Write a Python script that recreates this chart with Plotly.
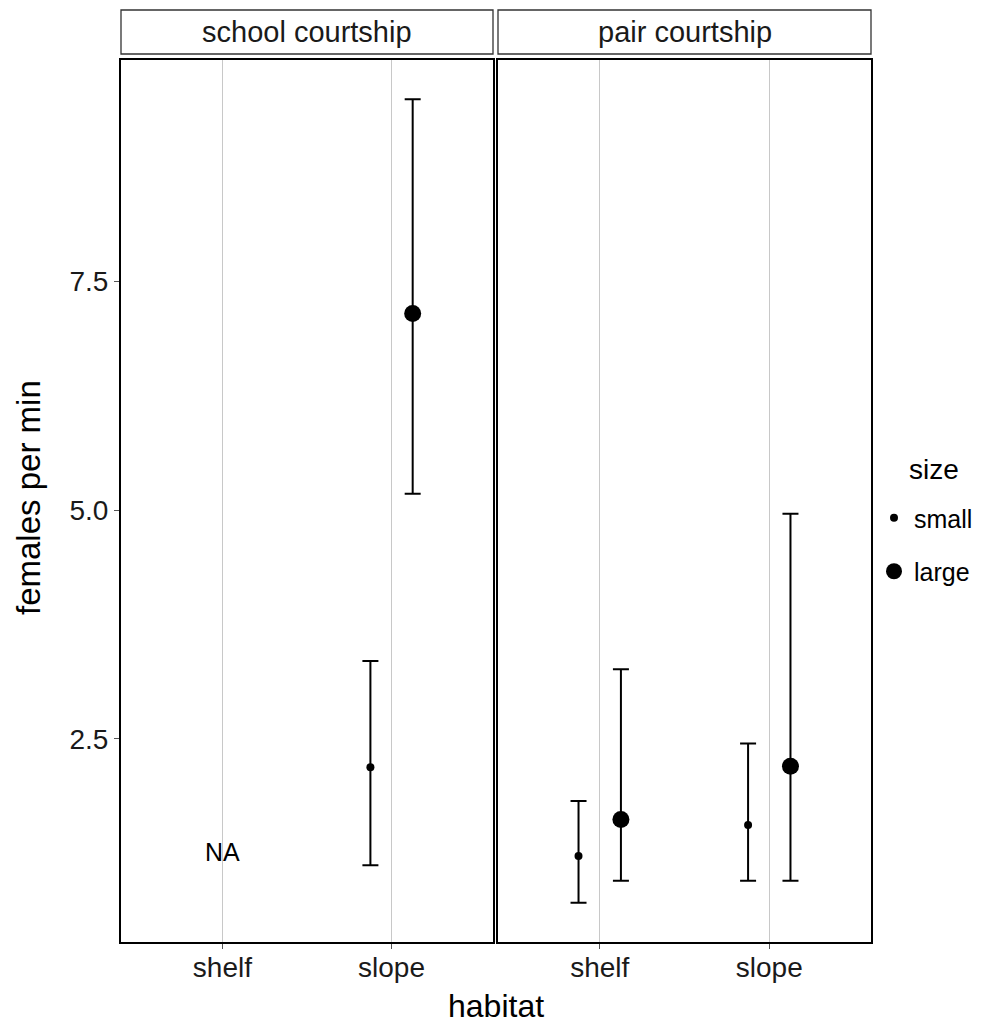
import plotly.graph_objects as go

# ---- data ----
habitats = ["shelf", "slope"]
panels = ["school courtship", "pair courtship"]
sizes = ["small", "large"]

# values per panel -> size -> [shelf, slope]
school_small_mean = [None, 2.19]
school_small_lo = [None, 1.12]
school_small_hi = [None, 3.35]
school_large_mean = [None, 7.15]
school_large_lo = [None, 5.18]
school_large_hi = [None, 9.49]

pair_small_mean = [1.22, 1.56]
pair_small_lo = [0.71, 0.95]
pair_small_hi = [1.82, 2.45]
pair_large_mean = [1.62, 2.20]
pair_large_lo = [0.95, 0.95]
pair_large_hi = [3.26, 4.96]

na_label_y = 1.26

W, H = 981, 1026
FONT = "Liberation Sans, Arial, Helvetica, sans-serif"

dodge = {"small": -0.125, "large": 0.125}
msize = {"small": 8, "large": 17}

data = {
    ("school courtship", "small"): (school_small_mean, school_small_lo, school_small_hi),
    ("school courtship", "large"): (school_large_mean, school_large_lo, school_large_hi),
    ("pair courtship", "small"): (pair_small_mean, pair_small_lo, pair_small_hi),
    ("pair courtship", "large"): (pair_large_mean, pair_large_lo, pair_large_hi),
}

fig = go.Figure()
shown = set()
for pi, panel in enumerate(panels):
    xa = "x" if pi == 0 else "x2"
    ya = "y" if pi == 0 else "y2"
    for s in sizes:
        mean, lo, hi = data[(panel, s)]
        xs, ys, ep, em = [], [], [], []
        for hi_i, h in enumerate(habitats):
            if mean[hi_i] is None:
                continue
            xs.append(hi_i + 1 + dodge[s])
            ys.append(mean[hi_i])
            ep.append(hi[hi_i] - mean[hi_i])
            em.append(mean[hi_i] - lo[hi_i])
        fig.add_trace(go.Scatter(
            x=xs, y=ys, mode="markers", xaxis=xa, yaxis=ya,
            name=s, legendgroup=s, showlegend=(s not in shown),
            marker=dict(color="black", size=msize[s]),
            error_y=dict(type="data", array=ep, arrayminus=em, symmetric=False,
                         color="black", thickness=2, width=8),
        ))
        shown.add(s)

# panel geometry (pixels)
p1 = (121, 493)
p2 = (498, 871)
ptop, pbot = 60, 942

def px(v):
    return v / W

def py(v):
    return 1 - v / H

xcommon = dict(range=[0.4, 2.6], tickvals=[1, 2], ticktext=habitats,
               showgrid=True, gridcolor="#c8c8c8", gridwidth=1.3,
               zeroline=False, showline=True, mirror=True, linecolor="black", linewidth=2,
               ticks="outside", ticklen=5, tickcolor="#555555", tickwidth=1.3,
               ticklabelstandoff=-6,
               tickfont=dict(size=28, color="#1a1a1a", family=FONT))
ycommon = dict(range=[0.28, 9.92], tickvals=[2.5, 5.0, 7.5],
               ticktext=["2.5", "5.0", "7.5"], showgrid=False, zeroline=False,
               showline=True, mirror=True, linecolor="black", linewidth=2)

fig.update_layout(
    width=W, height=H, margin=dict(l=0, r=0, t=0, b=0),
    paper_bgcolor="white", plot_bgcolor="white",
    font=dict(family=FONT, color="black"),
    xaxis=dict(domain=[px(p1[0]), px(p1[1])], anchor="y", **xcommon),
    xaxis2=dict(domain=[px(p2[0]), px(p2[1])], anchor="y2", **xcommon),
    yaxis=dict(domain=[py(pbot), py(ptop)], anchor="x", ticks="outside", ticklen=5,
               tickcolor="#555555", tickwidth=1.3,
               tickfont=dict(size=28, color="#1a1a1a", family=FONT), **ycommon),
    yaxis2=dict(domain=[py(pbot), py(ptop)], anchor="x2", matches="y", ticks="",
                showticklabels=False, **ycommon),
    legend=dict(x=px(874), y=py(495), xanchor="left", yanchor="top",
                font=dict(size=25, family=FONT), tracegroupgap=18,
                itemsizing="trace", bgcolor="rgba(0,0,0,0)"),
    showlegend=True,
)

# legend title
fig.add_annotation(xref="paper", yref="paper", x=px(934), y=py(469), text="size",
                   showarrow=False, xanchor="center", yanchor="middle",
                   font=dict(size=28, color="black", family=FONT))

# strips
for (x0, x1), label in zip([p1, p2], panels):
    fig.add_shape(type="rect", xref="paper", yref="paper",
                  x0=px(x0), x1=px(x1), y0=py(54), y1=py(10),
                  line=dict(color="#333333", width=1.3), fillcolor="white")
    fig.add_annotation(xref="paper", yref="paper", x=px((x0 + x1) / 2), y=py(32),
                       text=label, showarrow=False, xanchor="center", yanchor="middle",
                       font=dict(size=29, color="#1a1a1a", family=FONT))

# NA label
fig.add_annotation(xref="x", yref="y", x=1, y=na_label_y, text="NA", showarrow=False,
                   xanchor="center", yanchor="middle",
                   font=dict(size=25, color="black", family=FONT))

# axis titles
fig.add_annotation(xref="paper", yref="paper", x=px(496), y=py(1006), text="habitat",
                   showarrow=False, xanchor="center", yanchor="middle",
                   font=dict(size=32, color="black", family=FONT))
fig.add_annotation(xref="paper", yref="paper", x=px(28), y=py(498), text="females per min",
                   showarrow=False, xanchor="center", yanchor="middle", textangle=-90,
                   font=dict(size=33, color="black", family=FONT))

fig.write_html("out.html")
